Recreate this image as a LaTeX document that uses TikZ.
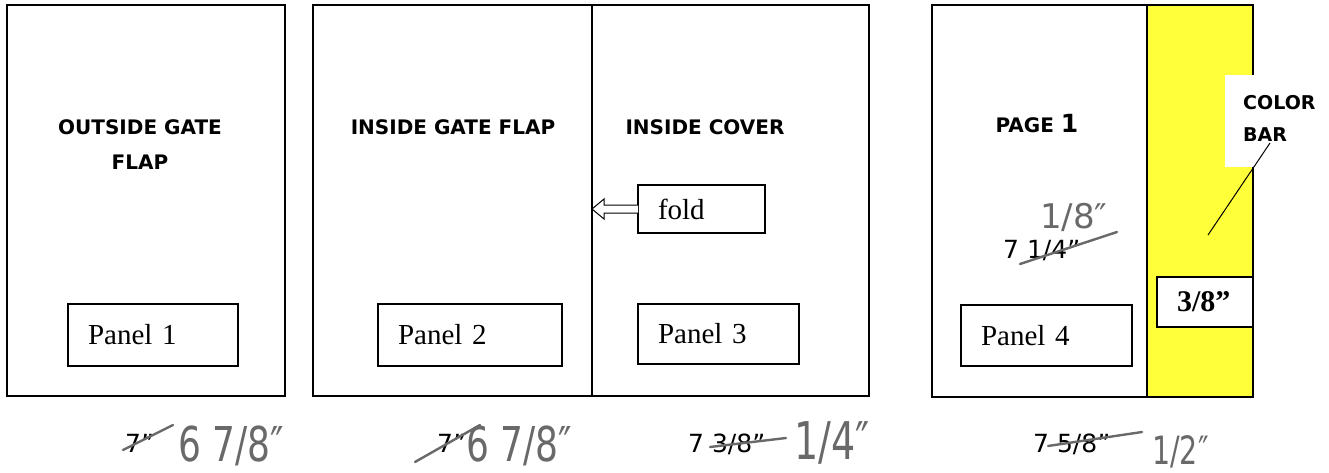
\documentclass[tikz,border=0pt]{standalone}
\usepackage{fontspec}
\usepackage{graphicx}
\setmainfont{Liberation Serif}
\newfontfamily\dv{DejaVu Sans}
\usetikzlibrary{calc}
\definecolor{barYellow}{RGB}{255,255,58}
\definecolor{pencil}{RGB}{105,105,105}
\begin{document}
\begin{tikzpicture}[x=1pt,y=-1pt,
  frame/.style={draw, line width=1.3pt, inner sep=0pt, outer sep=0pt, anchor=north west},
  pbox/.style={draw, line width=1.1pt, anchor=north west, inner xsep=20pt, inner ysep=0pt,
     outer sep=0pt, align=left, font=\fontsize{29}{34}\selectfont},
  title/.style={font=\dv\bfseries\fontsize{20}{35}\selectfont, anchor=base, inner sep=0pt, align=center},
  typed/.style={font=\dv\fontsize{25}{30}\selectfont, anchor=base west, inner sep=0pt},
  hand/.style={font=\dv\fontsize{40}{44}\selectfont, text=pencil, anchor=base west, inner sep=0pt},
  strike/.style={draw=pencil, line width=2.4pt, line cap=round},
]
\useasboundingbox (0,0) rectangle (1329,473);

% big panels
\node[frame, minimum width=278pt, minimum height=391pt] (p1) at (7,5) {};
\node[frame, minimum width=279pt, minimum height=391pt] (p2) at (313,5) {};
\node[frame, minimum width=277pt, minimum height=391pt] (p3) at (592,5) {};
\node[frame, minimum width=215pt, minimum height=392pt] (p4) at (932,5) {};
\node[frame, fill=barYellow, minimum width=106pt, minimum height=392pt] (bar) at (1147,5) {};

% colour bar label
\node[fill=white, anchor=north west, inner sep=0pt, minimum width=80pt, minimum height=92pt] (cbpatch) at (1225,75) {};
\node[font=\dv\bfseries\fontsize{19}{32}\selectfont, anchor=base west, inner sep=0pt, align=left] (cbar) at (1243,142) {COLOR\\BAR};
\coordinate (cbs) at (1270,143);
\coordinate (cbe) at (1208,235);
\draw[line width=1pt] (cbs) -- (cbe);

% titles
\node[title] (t1) at (140,170) {OUTSIDE GATE\\FLAP};
\node[title] (t2) at (453,135) {INSIDE GATE FLAP};
\node[title] (t3) at (705,135) {INSIDE COVER};
\node[title] (t4) at (1037,133) {PAGE {\fontsize{25}{30}\selectfont 1}};

% panel label boxes
\node[pbox, text width=130pt, minimum height=62pt] (b1) at (68,304) {Panel 1};
\node[pbox, text width=144pt, minimum height=62pt] (b2) at (378,304) {Panel 2};
\node[pbox, text width=121pt, minimum height=60pt] (b3) at (638,304) {Panel 3};
\node[pbox, text width=131pt, minimum height=61pt] (b4) at (961,305) {Panel 4};
\node[pbox, fill=white, text width=56pt, minimum height=50pt, font=\bfseries\fontsize{30}{34}\selectfont] (b5) at (1157,277) {3/8”};

% fold box and hollow arrow
\node[pbox, text width=87pt, minimum height=48pt] (fold) at (638,185) {fold};
\coordinate (tip) at (p3.west |- fold.west);
\draw[line width=1pt, fill=white] ($(fold.west)+(0,-4)$) -- ($(tip)+(12,-4)$) -- ($(tip)+(12,-10)$)
   -- (tip) -- ($(tip)+(12,10)$) -- ($(tip)+(12,4)$) -- ($(fold.west)+(0,4)$);

% handwritten correction in page 1
\node[typed] (p4a) at (1003,258) {7 1/4”};
\draw[strike] (1020,264) -- (1117,232);
\node[hand, font=\dv\fontsize{34}{40}\selectfont] (p4b) at (1040,228) {1/8″};

% bottom dimensions
\node[typed] (r1a) at (125,452) {7”};
\draw[strike] (123,450) -- (173,425);
\node[hand] (r1b) at (178,461) {\scalebox{0.9}[1.2]{6 7/8″}};

\node[typed] (r2a) at (437,452) {7”};
\draw[strike] (415,462) -- (480,425);
\node[hand] (r2b) at (466,461) {\scalebox{0.9}[1.2]{6 7/8″}};

\node[typed] (r3a) at (688,452) {7 3/8”};
\draw[strike] (710,447) -- (786,438);
\node[hand] (r3b) at (794,459) {\scalebox{0.95}[1.3]{1/4″}};

\node[typed] (r4a) at (1033,452) {7 5/8”};
\draw[strike] (1048,446) -- (1142,432);
\node[hand, font=\dv\fontsize{30}{36}\selectfont] (r4b) at (1152,464) {\scalebox{0.95}[1.3]{1/2″}};
\end{tikzpicture}
\end{document}
